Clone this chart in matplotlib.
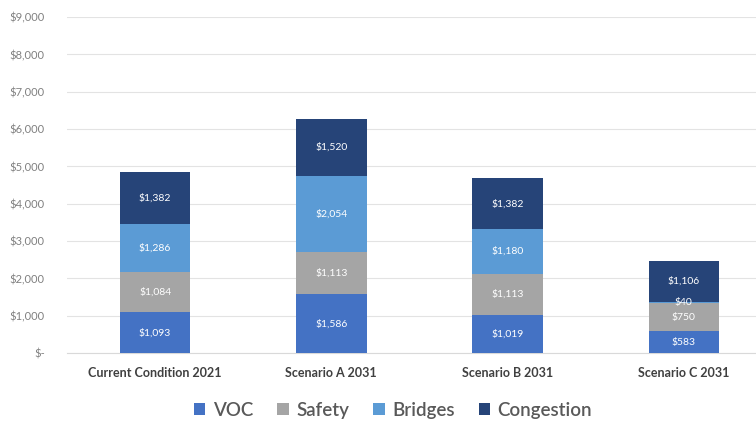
import matplotlib.pyplot as plt
import numpy as np

# data
scenarios = ['Current Condition 2021', 'Scenario A 2031', 'Scenario B 2031', 'Scenario C 2031']
voc = [1093, 1586, 1019, 583]
safety = [1084, 1113, 1113, 750]
bridges = [1286, 2054, 1180, 40]
congestion = [1382, 1520, 1382, 1106]

series = [('VOC', voc, '#4472C4'),
          ('Safety', safety, '#A5A5A5'),
          ('Bridges', bridges, '#5B9BD5'),
          ('Congestion', congestion, '#264478')]

plt.rcParams['font.family'] = ['Lato', 'DejaVu Sans']

fig = plt.figure(figsize=(7.56, 4.26), dpi=100)
ax = fig.add_axes([0.0886, 0.171, 0.9114, 0.789])

x = np.arange(len(scenarios))
bottom = np.zeros(len(scenarios))
for name, vals, color in series:
    bars = ax.bar(x, vals, width=0.4, bottom=bottom, color=color, label=name, zorder=3)
    for xi, b, v in zip(x, bottom, vals):
        ax.text(xi, b + v / 2, f'${v:,}', ha='center', va='center',
                color='white', fontsize=7.5, zorder=4)
    bottom += np.array(vals)

ax.set_ylim(0, 9000)
ax.set_xlim(-0.5, 3.41)
ax.set_yticks(range(0, 9001, 1000))
ax.set_yticklabels(['$-'] + [f'${v:,}' for v in range(1000, 9001, 1000)])
ax.set_xticks(x)
ax.set_xticklabels(scenarios, fontweight='bold', color='#404040', fontsize=9)
ax.tick_params(axis='y', colors='#808080', labelsize=8, length=0, pad=16)
ax.tick_params(axis='x', length=0, pad=10)
ax.grid(axis='y', color='#E3E3E3', linewidth=0.8, zorder=0)
for s in ['top', 'right', 'left']:
    ax.spines[s].set_visible(False)
ax.spines['bottom'].set_color('#D9D9D9')

leg = fig.legend(loc='lower center', bbox_to_anchor=(0.52, -0.01), ncol=4, frameon=False,
                 prop={'size': 13.5, 'weight': 'semibold'},
                 handlelength=0.6, handleheight=0.6, handletextpad=0.4,
                 columnspacing=1.3, borderaxespad=0.2)
for t in leg.get_texts():
    t.set_color('#595959')

fig.savefig('out.png', dpi=100)
